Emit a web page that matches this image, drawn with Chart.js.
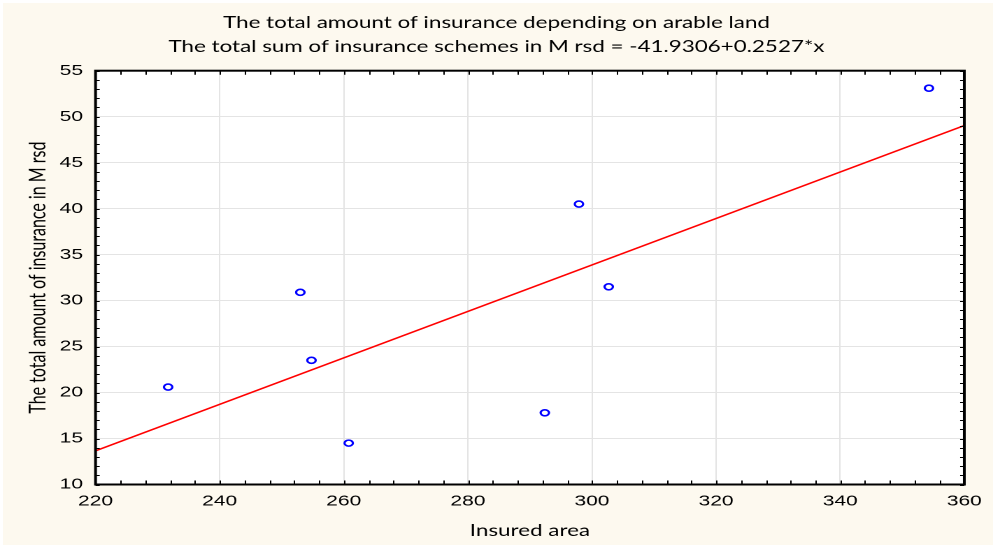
<!DOCTYPE html>
<html>
<head>
<meta charset="utf-8">
<script src="https://cdn.jsdelivr.net/npm/chart.js@4/dist/chart.umd.min.js"></script>
<style>
  html, body { margin: 0; padding: 0; background: #ffffff; overflow: hidden; }
  #bg { position: absolute; left: 3px; top: 3px; width: 990px; height: 542px; background: #FDF9EF; }
  #wrap { position: absolute; left: 0; top: 0; width: 710px; height: 545px;
          transform: scaleX(1.39859); transform-origin: 0 0; }
</style>
</head>
<body>
<div id="bg"></div>
<div id="wrap"><canvas id="c"></canvas></div>
<script>
// ---- data ----
const insuredArea    = [231.7, 253.0, 254.8, 260.8, 292.4, 297.9, 302.7, 354.3];
const insuranceMrsd  = [20.6, 30.9, 23.5, 14.5, 17.8, 40.5, 31.5, 53.1];
// regression line end points (from: y = -41.9306 + 0.2527*x)
const fitArea        = [220, 360];
const fitInsurance   = [13.66, 49.04];
// axis ticks
const xTickValues    = [220, 240, 260, 280, 300, 320, 340, 360];
const yTickValues    = [10, 15, 20, 25, 30, 35, 40, 45, 50, 55];

const titleLines = [
  'The total amount of insurance depending on arable land',
  'The total sum of insurance schemes in M rsd = -41.9306+0.2527*x'
];
const xTitle = 'Insured area';
const yTitle = 'The total amount of insurance in M rsd';

const points = insuredArea.map((v, i) => ({ x: v, y: insuranceMrsd[i] }));
const fitLine = fitArea.map((v, i) => ({ x: v, y: fitInsurance[i] }));

const plotDecor = {
  id: 'plotDecor',
  beforeDraw(chart) {
    const { ctx, chartArea: a } = chart;
    ctx.save();
    ctx.fillStyle = '#ffffff';
    ctx.fillRect(a.left, a.top, a.right - a.left, a.bottom - a.top);
    ctx.restore();
  },
  afterDatasetsDraw(chart) {
    const { ctx, chartArea: a, scales: { x, y } } = chart;
    ctx.save();
    ctx.strokeStyle = '#000';
    // minor / major inward ticks
    ctx.lineWidth = 1;
    ctx.beginPath();
    for (let v = x.min; v <= x.max + 1e-9; v += 4) {
      const px = Math.round(x.getPixelForValue(v)) + 0.5;
      ctx.moveTo(px, a.bottom); ctx.lineTo(px, a.bottom - 4);
      ctx.moveTo(px, a.top); ctx.lineTo(px, a.top + 4);
    }
    for (let v = y.min; v <= y.max + 1e-9; v += 1) {
      const py = Math.round(y.getPixelForValue(v)) + 0.5;
      ctx.moveTo(a.left, py); ctx.lineTo(a.left + 3, py);
      ctx.moveTo(a.right, py); ctx.lineTo(a.right - 3, py);
    }
    ctx.stroke();
    // frame
    ctx.lineWidth = 2;
    ctx.strokeRect(a.left, a.top, a.right - a.left, a.bottom - a.top);
    ctx.restore();
  }
};

new Chart(document.getElementById('c'), {
  type: 'scatter',
  data: {
    datasets: [
      {
        type: 'line',
        label: 'fit',
        data: fitLine,
        borderColor: '#ff0000',
        borderWidth: 1.5,
        pointRadius: 0,
        fill: false,
        order: 2
      },
      {
        label: 'observations',
        data: points,
        pointStyle: 'circle',
        pointRadius: 3,
        pointBorderWidth: 1.6,
        borderColor: '#0000ff',
        backgroundColor: 'rgba(255,255,255,0)',
        order: 1
      }
    ]
  },
  options: {
    responsive: true,
    maintainAspectRatio: false,
    devicePixelRatio: 2,
    animation: false,
    layout: { padding: { left: 0, right: 0, top: 0, bottom: 0 } },
    plugins: {
      legend: { display: false },
      tooltip: { enabled: false },
      title: {
        display: true,
        text: titleLines,
        color: '#000',
        font: { family: 'Lato', size: 16, weight: 'normal', lineHeight: '24px' },
        padding: { top: 11, bottom: 11.7 }
      }
    },
    scales: {
      x: {
        type: 'linear',
        min: 220, max: 360,
        afterBuildTicks: s => { s.ticks = xTickValues.map(v => ({ value: v })); },
        afterFit: s => { s.height = 60.5; },
        grid: { color: '#e4e4e4', lineWidth: 1, drawTicks: false },
        border: { display: false },
        ticks: { color: '#000', padding: 8, maxRotation: 0,
                 font: { family: 'Liberation Sans', size: 15 } },
        title: { display: true, text: xTitle, color: '#000',
                 font: { family: 'Lato', size: 16 }, padding: { top: 0, bottom: 4.5 } }
      },
      y: {
        type: 'linear',
        min: 10, max: 55,
        afterBuildTicks: s => { s.ticks = yTickValues.map(v => ({ value: v })); },
        afterFit: s => { s.width = 68.3; },
        grid: { color: '#e4e4e4', lineWidth: 1, drawTicks: false },
        border: { display: false },
        ticks: { color: '#000', padding: 9,
                 font: { family: 'Liberation Sans', size: 15 } },
        title: { display: true, text: yTitle, color: '#000',
                 font: { family: 'Lato', size: 16 }, padding: { top: 17.9, bottom: 0 } }
      },
      yRight: {
        type: 'linear',
        position: 'right',
        display: true,
        min: 10, max: 55,
        afterFit: s => { s.width = 19.3; },
        grid: { display: false, drawTicks: false },
        border: { display: false },
        ticks: { display: false }
      }
    }
  },
  plugins: [plotDecor]
});
</script>
</body>
</html>
